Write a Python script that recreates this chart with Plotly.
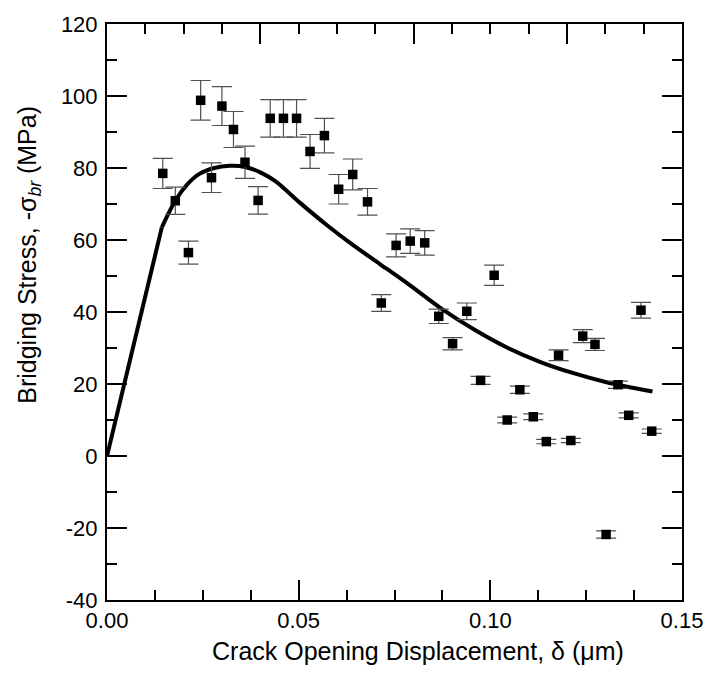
import plotly.graph_objects as go

# Measured data points: crack opening displacement (um) and bridging stress (MPa)
cod = [0.01455, 0.01782, 0.02124, 0.02443, 0.02726, 0.02998, 0.03299, 0.0360,
       0.03942, 0.04258, 0.04603, 0.04945, 0.05297, 0.05672, 0.06043, 0.0641,
       0.06796, 0.07156, 0.07542, 0.0791, 0.08288, 0.08655, 0.09015, 0.09386,
       0.09746, 0.1010, 0.1044, 0.1077, 0.1112, 0.1146, 0.1178, 0.1210,
       0.1241, 0.1273, 0.1302, 0.1333, 0.1361, 0.1393, 0.1421]
stress = [78.5, 70.9, 56.5, 98.8, 77.3, 97.2, 90.7, 81.6,
          71.0, 93.8, 93.8, 93.8, 84.6, 89.0, 74.1, 78.2,
          70.6, 42.5, 58.5, 59.7, 59.2, 38.8, 31.2, 40.2,
          21.0, 50.2, 10.0, 18.4, 10.9, 4.0, 28.0, 4.3,
          33.3, 31.0, -21.8, 19.8, 11.3, 40.5, 6.9]
stress_err = [4.2, 3.8, 3.2, 5.5, 4.1, 5.4, 5.0, 4.5,
              3.8, 5.2, 5.2, 5.2, 4.7, 4.8, 4.1, 4.3,
              3.7, 2.3, 3.2, 3.4, 3.4, 2.0, 1.7, 2.3,
              1.1, 2.8, 0.8, 1.0, 0.8, 0.6, 1.5, 0.6,
              1.8, 1.7, 1.0, 1.0, 0.7, 2.2, 0.6]

# Model curve (linear rise up to the kink, smooth afterwards)
curve_x = [0.0, 0.0143, 0.0178, 0.021, 0.024, 0.028, 0.032, 0.036, 0.040, 0.044,
           0.0506, 0.0574, 0.0643, 0.0711, 0.0788, 0.0874, 0.096, 0.1046, 0.1131,
           0.1217, 0.1303, 0.1423]
curve_y = [0.0, 63.5, 70.9, 75.5, 78.3, 80.0, 80.6, 80.3, 78.8, 76.3,
           70.1, 64.1, 58.5, 53.4, 47.6, 40.8, 35.0, 30.0, 26.1,
           23.0, 20.5, 17.9]

x_ticks = [0.0, 0.05, 0.10, 0.15]
x_ticktext = ["0.00", "0.05", "0.10", "0.15"]
x_top_ticks = [0.04, 0.08, 0.12]
y_ticks = [-40, -20, 0, 20, 40, 60, 80, 100, 120]
y_ticktext = ["-40", "-20", "0", "20", "40", "60", "80", "100", "120"]

x_title = "Crack Opening Displacement, δ (μm)"
y_title = "Bridging Stress, -σ<sub><i>br</i></sub> (MPa)"

FONT = "Liberation Sans, Arial, Helvetica, sans-serif"

fig = go.Figure()
fig.add_trace(go.Scatter(
    x=curve_x[:2], y=curve_y[:2], mode="lines",
    line=dict(color="black", width=4), hoverinfo="skip", showlegend=False))
fig.add_trace(go.Scatter(
    x=curve_x[1:], y=curve_y[1:], mode="lines",
    line=dict(color="black", width=4, shape="spline", smoothing=0.8),
    hoverinfo="skip", showlegend=False))
fig.add_trace(go.Scatter(
    x=cod, y=stress, mode="markers",
    marker=dict(symbol="square", size=9.5, color="black"),
    error_y=dict(type="data", array=stress_err, visible=True,
                 color="#505050", thickness=1.2, width=10),
    showlegend=False))
# invisible trace to anchor the mirrored axes
fig.add_trace(go.Scatter(x=[0], y=[0], xaxis="x2", yaxis="y2", mode="markers",
                         marker=dict(opacity=0), hoverinfo="skip", showlegend=False))

common = dict(showgrid=False, zeroline=False, showline=True, linecolor="black",
              linewidth=2, ticks="inside", tickcolor="black", tickwidth=1.5,
              ticklen=20)
minor_common = dict(ticks="inside", ticklen=10, tickcolor="black", tickwidth=1.5)

fig.update_layout(
    width=715, height=675,
    margin=dict(l=107, r=25, t=18, b=75),
    plot_bgcolor="white", paper_bgcolor="white",
    font=dict(family=FONT, size=22, color="black"),
    xaxis=dict(range=[0, 0.15], tickvals=x_ticks, ticktext=x_ticktext,
               minor=dict(dtick=0.0125, tick0=0, **minor_common),
               tickfont=dict(size=22), **common),
    xaxis2=dict(range=[0, 0.15], overlaying="x", side="top", anchor="y",
                tickvals=x_top_ticks, showticklabels=False,
                minor=dict(dtick=0.01, tick0=0, **minor_common),
                **common),
    yaxis=dict(range=[-40, 120], tickvals=y_ticks, ticktext=y_ticktext,
               minor=dict(dtick=10, tick0=0, **minor_common),
               tickfont=dict(size=22), ticklabelstandoff=3, **common),
    yaxis2=dict(range=[-40, 120], overlaying="y", side="right", anchor="x",
                tickvals=y_ticks, showticklabels=False,
                minor=dict(dtick=10, tick0=0, **minor_common),
                **common),
    annotations=[
        dict(text=x_title, xref="paper", yref="paper", x=0.54, y=-0.089,
             xanchor="center", yanchor="middle", showarrow=False,
             font=dict(size=25)),
        dict(text=y_title, xref="paper", yref="paper", x=-0.135, y=0.60,
             xanchor="center", yanchor="middle", textangle=-90, showarrow=False,
             font=dict(size=25)),
    ],
)

fig.write_html("out.html")
